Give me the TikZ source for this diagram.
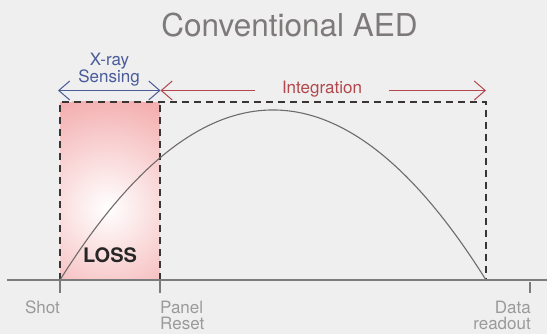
\documentclass[tikz,border=0pt]{standalone}
\usepackage{fontspec}
\setmainfont{TeX Gyre Heros}
\usetikzlibrary{arrows.meta}
\definecolor{bg}{HTML}{EFEFEF}
\definecolor{pinkc}{HTML}{F4AFB0}
\definecolor{bluec}{HTML}{4A5B9A}
\definecolor{redc}{HTML}{B2484C}
\definecolor{titlec}{HTML}{7E7A7A}
\definecolor{labelc}{HTML}{9A9A9A}
\definecolor{curvec}{HTML}{6F6B6B}
\definecolor{axisc}{HTML}{7C7C7C}
\definecolor{dashc}{HTML}{3A3535}
\tikzset{
  dline/.style={draw=dashc, line width=1.1pt, dash pattern=on 7pt off 5pt},
  barb/.tip={Straight Barb[length=11pt,width=19pt,line width=1pt]},
  lbl/.style={text=labelc, font=\fontsize{17}{18}\selectfont, inner sep=0pt},
  txt/.style={font=\fontsize{17}{18}\selectfont, anchor=base, inner sep=0pt},
}
\begin{document}
\begin{tikzpicture}[x=1pt,y=-1pt]
\useasboundingbox[fill=bg] (0,0) rectangle (547,334);
% pink loss region
\begin{scope}
\clip (60,102) rectangle (160,280);
\fill[pinkc] (60,102) rectangle (160,280);
\shade[inner color=white, outer color=pinkc] (107,208) circle (112);
\end{scope}
% coordinates
\coordinate (shot) at (60,280);
\coordinate (reset) at (160,280);
\coordinate (end) at (486,280);
\coordinate (shotT) at (60,102);
\coordinate (resetT) at (160,102);
\coordinate (endT) at (486,102);
% dashed box
\draw[dline] (shot) -- (shotT) -- (endT) -- (end);
\draw[dline] (reset) -- (resetT);
% curve
\draw[curvec, line width=1.1pt] (shot) .. controls (202,53.3) and (344,53.3) .. (end);
% axis
\coordinate (axL) at (7,280);
\coordinate (axR) at (547,280);
\draw[axisc, line width=1.4pt] (axL) -- (axR);
\coordinate (t1) at (60,293);
\coordinate (t2) at (160,293);
\coordinate (t3a) at (530,282);
\coordinate (t3b) at (530,293);
\draw[axisc, line width=1.2pt] (shot) -- (t1);
\draw[axisc, line width=1.2pt] (reset) -- (t2);
\draw[axisc, line width=1.2pt] (t3a) -- (t3b);
% title
\node[text=titlec, font=\fontsize{31.5}{33}\selectfont, anchor=base, inner sep=0pt] (title) at (289.5,37) {Conventional AED};
% blue arrow
\coordinate (bL) at (58,90.5);
\coordinate (bR) at (160.5,90.5);
\draw[bluec, line width=1.3pt, barb-barb] (bL) -- (bR);
\node[txt, text=bluec] (xray) at (109.5,65.5) {X-ray};
\node[txt, text=bluec] (sens) at (109,82.5) {Sensing};
% red arrow
\node[txt, text=redc] (integ) at (322,93.3) {Integration};
\coordinate (rL) at (160.5,90.5);
\coordinate (rA) at (255,90.5);
\coordinate (rB) at (389,90.5);
\coordinate (rR) at (486,90.5);
\draw[redc, line width=1.3pt, -barb] (rA) -- (rL);
\draw[redc, line width=1.3pt, -barb] (rB) -- (rR);
% loss
\node[text=black!85, font=\fontsize{20}{22}\selectfont\bfseries, anchor=base, inner sep=0pt] (loss) at (110,263) {LOSS};
% labels
\node[lbl, anchor=base east] (shotl) at (60,313) {Shot};
\node[lbl, anchor=base west] (panel) at (160,313) {Panel};
\node[lbl, anchor=base west] (resetl) at (160,330) {Reset};
\node[lbl, anchor=base east] (data) at (531,313) {Data};
\node[lbl, anchor=base east] (readout) at (531,330) {readout};
\end{tikzpicture}
\end{document}
